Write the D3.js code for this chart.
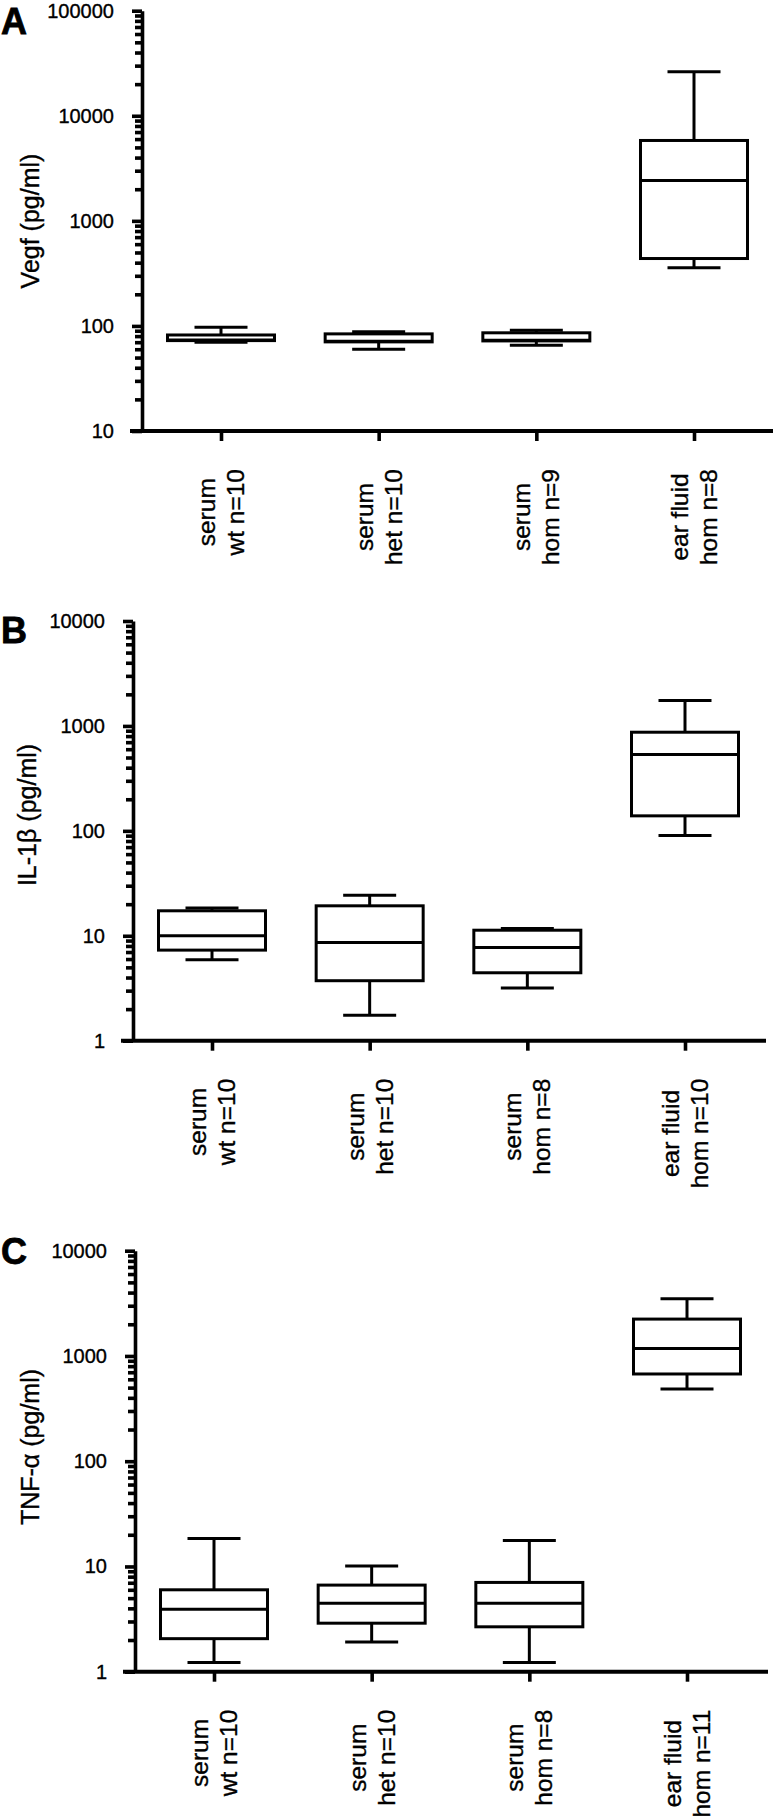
<!DOCTYPE html>
<html>
<head>
<meta charset="utf-8">
<script src="https://cdn.jsdelivr.net/npm/d3@7"></script>
<style>
  html, body { margin: 0; padding: 0; background: #fff; }
  svg { display: block; font-family: "Liberation Sans", Arial, Helvetica, sans-serif; }
</style>
</head>
<body>
<svg id="chart" width="773" height="1820"></svg>
<script>
// ---------------- data ----------------
const vegfLabels = [["serum", "wt n=10"], ["serum", "het n=10"], ["serum", "hom n=9"], ["ear fluid", "hom n=8"]];
const il1bLabels = [["serum", "wt n=10"], ["serum", "het n=10"], ["serum", "hom n=8"], ["ear fluid", "hom n=10"]];
const tnfLabels  = [["serum", "wt n=10"], ["serum", "het n=10"], ["serum", "hom n=8"], ["ear fluid", "hom n=11"]];

// each group: [min, q1, median, q3, max]
const vegfStats = [
  [70, 72.5, 73.5, 82, 97],
  [60, 70.5, 71.5, 84, 88],
  [65.5, 72, 73, 86, 91],
  [357, 438, 2420, 5820, 26200]
];
const il1bStats = [
  [5.9, 7.3, 10, 17.3, 18.4],
  [1.75, 3.73, 8.65, 19.3, 24.4],
  [3.18, 4.44, 7.75, 11.3, 11.7],
  [90.4, 139, 534, 871, 1746]
];
const tnfStats = [
  [1.22, 2.06, 3.93, 6.0, 18.4],
  [1.92, 2.89, 4.48, 6.65, 10.1],
  [1.22, 2.67, 4.48, 7.05, 17.6],
  [485, 674, 1177, 2240, 3490]
];

const vegfTicks = [10, 100, 1000, 10000, 100000];
const il1bTicks = [1, 10, 100, 1000, 10000];
const tnfTicks  = [1, 10, 100, 1000, 10000];

const panelLetters = ["A", "B", "C"];
const yTitles = ["Vegf (pg/ml)", "IL-1\u03B2 (pg/ml)", "TNF-\u03B1 (pg/ml)"];

// ---------------- layout ----------------
const layouts = [
  { axisX: 142, yTop: 10.7, yBottom: 431, titleX: 30, titleY: 221, letterY: 34 },
  { axisX: 133, yTop: 621, yBottom: 1040.7, titleX: 27, titleY: 815, letterY: 643 },
  { axisX: 135, yTop: 1250.7, yBottom: 1671.7, titleX: 30, titleY: 1447, letterY: 1264 }
];
const panelData = [
  { labels: vegfLabels, stats: vegfStats, ticks: vegfTicks },
  { labels: il1bLabels, stats: il1bStats, ticks: il1bTicks },
  { labels: tnfLabels, stats: tnfStats, ticks: tnfTicks }
];

const svg = d3.select("#chart");
const AXW = 3.6, BOXW = 3;
const boxWidth = 107, capWidth = 53;
const textStroke = 0.35;

panelData.forEach((pd, pi) => {
  const L = layouts[pi];
  const g = svg.append("g");
  const ticks = pd.ticks;

  const y = d3.scaleLog()
    .domain([ticks[0], ticks[ticks.length - 1]])
    .range([L.yBottom, L.yTop]);

  const x = d3.scalePoint()
    .domain(pd.labels.map((d, i) => i))
    .range([L.axisX + 79, L.axisX + 552]);

  // minor ticks
  const minors = [];
  for (let k = 0; k < ticks.length - 1; k++) {
    for (let m = 2; m <= 9; m++) minors.push(ticks[k] * m);
  }
  const minorAxis = g.append("g")
    .attr("transform", `translate(${L.axisX},0)`)
    .call(d3.axisLeft(y).tickValues(minors).tickSize(7).tickFormat(""));
  minorAxis.select(".domain").remove();
  minorAxis.selectAll(".tick line").attr("stroke", "#000").attr("stroke-width", AXW);

  // major ticks + labels
  const majorAxis = g.append("g")
    .attr("transform", `translate(${L.axisX},0)`)
    .call(d3.axisLeft(y).tickValues(ticks).tickSize(10).tickSizeOuter(0)
      .tickPadding(18).tickFormat(d3.format("d")));
  majorAxis.select(".domain").attr("stroke", "#000").attr("stroke-width", AXW);
  majorAxis.selectAll(".tick line").attr("stroke", "#000").attr("stroke-width", AXW);
  majorAxis.selectAll(".tick text")
    .attr("fill", "#000")
    .attr("stroke", "#000").attr("stroke-width", textStroke)
    .style("font-size", "20px")
    .style("font-family", '"Liberation Sans", Arial, sans-serif');

  // x axis
  g.append("line")
    .attr("x1", L.axisX - 12).attr("x2", L.axisX + 633)
    .attr("y1", L.yBottom).attr("y2", L.yBottom)
    .attr("stroke", "#000").attr("stroke-width", AXW + 0.4);
  const xAxis = g.append("g")
    .attr("transform", `translate(0,${L.yBottom})`)
    .call(d3.axisBottom(x).tickSize(10).tickFormat(""));
  xAxis.select(".domain").remove();
  xAxis.selectAll(".tick line").attr("stroke", "#000").attr("stroke-width", AXW);

  // category labels (rotated, two lines)
  pd.labels.forEach((lines, i) => {
    const lg = g.append("g");
    const texts = lines.map((t, li) => lg.append("text")
      .attr("text-anchor", "middle")
      .attr("y", li === 0 ? -6 : 23)
      .style("font-size", "24.5px")
      .attr("fill", "#000")
      .attr("stroke", "#000").attr("stroke-width", textStroke)
      .text(t));
    const maxLen = d3.max(texts, t => t.node().getComputedTextLength());
    lg.attr("transform", `translate(${x(i)},${L.yBottom + 38 + maxLen / 2}) rotate(-90)`);
  });

  // boxes
  pd.stats.forEach((s, i) => {
    const [mn, q1, med, q3, mx] = s;
    const cx = x(i);
    const bg = g.append("g").attr("fill", "none").attr("stroke", "#000").attr("stroke-width", BOXW);
    bg.append("line").attr("x1", cx).attr("x2", cx).attr("y1", y(mx)).attr("y2", y(q3));
    bg.append("line").attr("x1", cx).attr("x2", cx).attr("y1", y(q1)).attr("y2", y(mn));
    bg.append("line").attr("x1", cx - capWidth / 2).attr("x2", cx + capWidth / 2).attr("y1", y(mx)).attr("y2", y(mx));
    bg.append("line").attr("x1", cx - capWidth / 2).attr("x2", cx + capWidth / 2).attr("y1", y(mn)).attr("y2", y(mn));
    bg.append("rect")
      .attr("x", cx - boxWidth / 2).attr("width", boxWidth)
      .attr("y", y(q3)).attr("height", y(q1) - y(q3))
      .attr("fill", "#fff");
    bg.append("line").attr("x1", cx - boxWidth / 2).attr("x2", cx + boxWidth / 2).attr("y1", y(med)).attr("y2", y(med));
  });

  // y title
  g.append("text")
    .attr("transform", `translate(${L.titleX},${L.titleY}) rotate(-90)`)
    .attr("text-anchor", "middle")
    .attr("dy", "0.35em")
    .style("font-size", "25px")
    .attr("fill", "#000")
    .attr("stroke", "#000").attr("stroke-width", textStroke)
    .text(yTitles[pi]);

  // panel letter
  g.append("text")
    .attr("x", 1).attr("y", L.letterY)
    .style("font-size", "36px")
    .style("font-weight", "bold")
    .attr("fill", "#000")
    .attr("stroke", "#000").attr("stroke-width", 0.8)
    .text(panelLetters[pi]);
});
</script>
</body>
</html>
